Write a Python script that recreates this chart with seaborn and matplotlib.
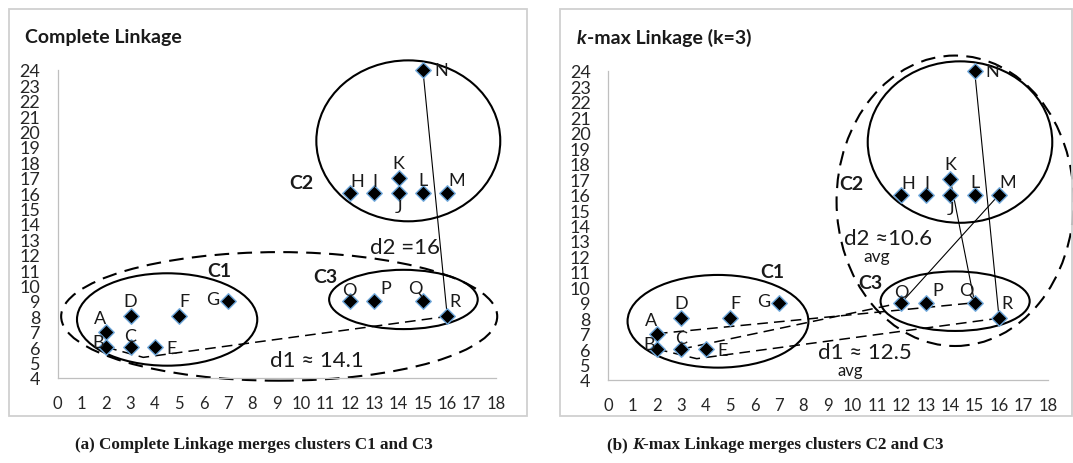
import matplotlib
matplotlib.use("Agg")
import matplotlib.pyplot as plt
from matplotlib.patches import Ellipse, Rectangle
import pandas as pd
import seaborn as sns

# ---- data -------------------------------------------------------------
point_names = list("ABCDEFGHIJKLMNOPQR")
point_x = [2, 2, 3, 3, 4, 5, 7, 12, 13, 14, 14, 15, 16, 15, 12, 13, 15, 16]
point_y = [7, 6, 6, 8, 6, 8, 9, 16, 16, 16, 17, 16, 16, 24, 9, 9, 9, 8]

x_ticks = list(range(0, 19))
y_ticks = list(range(4, 25))

panel_titles = ["Complete Linkage", "-max Linkage (k=3)"]
captions = ["(a) Complete Linkage merges clusters C1 and C3",
            "-max Linkage merges clusters C2 and C3"]

# cluster outlines: (cx, cy, width, height) in data units
cluster_names = ["C1", "C2", "C3"]
cluster_shapes = [(4.5, 7.8, 7.4, 6.0), (14.4, 19.4, 7.55, 10.45), (14.2, 9.1, 6.1, 3.85)]
merged_shapes = [(9.1, 8.0, 17.9, 8.35), (14.2, 15.6, 9.7, 18.8)]

# linkage pairs drawn in each panel
complete_pairs_solid = [("N", "R")]
complete_pairs_dashed = [("B", "R")]
kmax_pairs_solid = [("N", "R"), ("K", "Q"), ("M", "O")]
kmax_pairs_dashed = [("A", "Q"), ("C", "O"), ("B", "R")]

distance_texts = [("d2 =16", "d1 \u2248 14.1"), ("d2 \u224810.6", "d1 \u2248 12.5")]

# ---- style ------------------------------------------------------------
sns.set_style("white")
plt.rcParams["font.family"] = ["Lato", "DejaVu Sans"]

df = pd.DataFrame({"name": point_names, "x": point_x, "y": point_y})
pos = {n: (x, y) for n, x, y in zip(point_names, point_x, point_y)}

# label offsets (pixels) around each marker
label_off = {"A": (-6, 14), "B": (-8, 5), "C": (0, 11), "D": (0, 15), "E": (17, -1),
             "F": (5, 15), "G": (-15, 2), "H": (7, 12), "I": (1, 12), "J": (0, -14),
             "K": (0, 15), "L": (0, 13), "M": (9, 13), "N": (18, 0), "O": (0, 11),
             "P": (12, 13), "Q": (-8, 13), "R": (8, 15)}

W, H = 1073, 464
fig = plt.figure(figsize=(W / 100, H / 100), dpi=100)

def fx(px):
    return px / W

def fy(py):
    return 1 - py / H

# panel frames
for x0, x1 in [(9, 527), (560, 1072)]:
    fig.patches.append(Rectangle((fx(x0), fy(417)), fx(x1 - x0), (417 - 10) / H,
                                 transform=fig.transFigure, fill=False,
                                 edgecolor="#d0d0d0", linewidth=1.3, zorder=0))

axes_px = [(57.5, 496, 71, 379), (608, 1048, 72, 381)]
axes = []
for (l, r, t, b) in axes_px:
    ax = fig.add_axes([fx(l), fy(b), fx(r - l), (b - t) / H])
    axes.append(ax)

PX = 1 / 1.389  # pixel -> point

def draw_panel(ax, solid_pairs, dashed_pairs, knee, merged, ctext_pos):
    ax.set_xlim(0, 18)
    ax.set_ylim(4, 24)
    ax.set_xticks(x_ticks)
    ax.set_yticks(y_ticks)
    ax.set_xticklabels([str(v) for v in x_ticks], fontsize=12, color="#262626")
    ax.set_yticklabels([str(v) for v in y_ticks], fontsize=13, color="#262626")
    ax.tick_params(axis="both", direction="out", length=4.5, width=0.9, color="#bfbfbf")
    ax.tick_params(axis="y", pad=8)
    ax.tick_params(axis="x", pad=8)
    for s in ["top", "right"]:
        ax.spines[s].set_visible(False)
    for s in ["left", "bottom"]:
        ax.spines[s].set_color("#bfbfbf")
        ax.spines[s].set_linewidth(0.9)
    ax.patch.set_alpha(0)

    # cluster outlines
    for (cx, cy, w, h) in cluster_shapes:
        ax.add_patch(Ellipse((cx, cy), w, h, fill=False, edgecolor="black",
                             linewidth=1.5, clip_on=False, zorder=2))
    cx, cy, w, h = merged
    ax.add_patch(Ellipse((cx, cy), w, h, fill=False, edgecolor="black",
                         linewidth=1.5, linestyle=(0, (7, 4)), clip_on=False, zorder=2))

    for a, b in solid_pairs:
        ax.plot([pos[a][0], pos[b][0]], [pos[a][1], pos[b][1]], color="black",
                linewidth=0.8, clip_on=False, zorder=3)
    for a, b in dashed_pairs:
        if (a, b) == ("B", "R"):
            xs = [pos[a][0], knee[0], pos[b][0]]
            ys = [pos[a][1], knee[1], pos[b][1]]
        else:
            xs = [pos[a][0], pos[b][0]]
            ys = [pos[a][1], pos[b][1]]
        ax.plot(xs, ys, color="black", linewidth=1.1, linestyle=(0, (7, 4)),
                clip_on=False, zorder=3)

    sns.scatterplot(data=df, x="x", y="y", marker="D", color="black",
                    edgecolor="#6fa8dc", linewidth=1.0, s=62, ax=ax,
                    zorder=5, clip_on=False, legend=False)
    ax.set_xlabel("")
    ax.set_ylabel("")

    for n in point_names:
        dx, dy = label_off[n]
        ax.annotate(n, pos[n], xytext=(dx * PX, dy * PX), textcoords="offset points",
                    ha="center", va="center", fontsize=13, color="#1a1a1a", zorder=6)

    for name, (tx, ty) in zip(cluster_names, ctext_pos):
        ax.text(tx, ty, name, ha="center", va="center", fontsize=14,
                fontweight="bold", color="#1a1a1a", zorder=6)


ax1, ax2 = axes
draw_panel(ax1, complete_pairs_solid, complete_pairs_dashed, (3.52, 5.34),
           merged_shapes[0], [(6.66, 10.95), (10.0, 16.7), (10.98, 10.6)])
draw_panel(ax2, kmax_pairs_solid, kmax_pairs_dashed, (3.63, 5.38),
           merged_shapes[1], [(6.71, 11.0), (9.96, 16.7), (10.74, 10.3)])

# distance annotations
ax1.text(14.25, 12.5, distance_texts[0][0], ha="center", va="center", fontsize=16,
         color="#1a1a1a", zorder=6)
ax1.text(10.65, 5.17, distance_texts[0][1], ha="center", va="center", fontsize=16,
         color="#1a1a1a", zorder=6)
ax2.text(9.66, 13.2, distance_texts[1][0], ha="left", va="center", fontsize=16,
         color="#1a1a1a", zorder=6)
ax2.text(11.0, 12.05, "avg", ha="center", va="center", fontsize=12.5,
         color="#1a1a1a", zorder=6)
ax2.text(8.6, 5.8, distance_texts[1][1], ha="left", va="center", fontsize=16,
         color="#1a1a1a", zorder=6)
ax2.text(9.9, 4.62, "avg", ha="center", va="center", fontsize=12,
         color="#1a1a1a", zorder=6)

# panel titles
fig.text(fx(25), fy(38), panel_titles[0], ha="left", va="center", fontsize=14,
         fontweight="bold", color="#1a1a1a")
t_k = fig.text(fx(577), fy(38), "k", ha="left", va="center", fontsize=14,
               fontweight="bold", fontstyle="italic", color="#1a1a1a")
plt.annotate(panel_titles[1], xy=(1, 0.5), xycoords=t_k, ha="left", va="center",
             fontsize=14, fontweight="bold", color="#1a1a1a", annotation_clip=False)

# captions
serif = ["Liberation Serif", "DejaVu Serif"]
fig.text(fx(254), fy(445), captions[0], ha="center", va="center", fontsize=12.3,
         fontweight="bold", family=serif, color="#1a1a1a")
t_b = fig.text(fx(607), fy(445), "(b) ", ha="left", va="center", fontsize=12.3,
               fontweight="bold", family=serif, color="#1a1a1a")
t_K = plt.annotate("K", xy=(1, 0.5), xycoords=t_b, ha="left", va="center", fontsize=12.3,
                   fontweight="bold", fontstyle="italic", family=serif, color="#1a1a1a",
                   annotation_clip=False)
plt.annotate(captions[1], xy=(1, 0.5), xycoords=t_K, ha="left", va="center", fontsize=12.3,
             fontweight="bold", family=serif, color="#1a1a1a", annotation_clip=False)

fig.savefig("out.png", dpi=100)
